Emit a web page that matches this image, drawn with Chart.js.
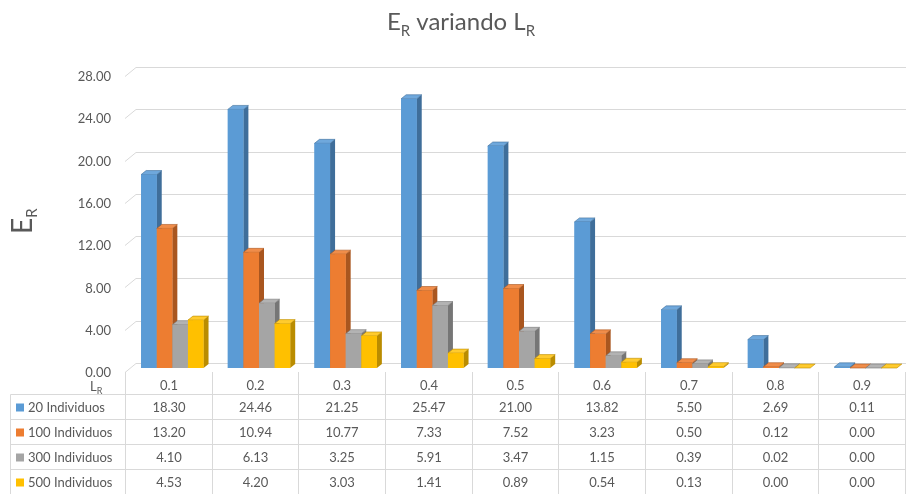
<!DOCTYPE html>
<html>
<head>
<meta charset="utf-8">
<script src="https://cdn.jsdelivr.net/npm/chart.js@4/dist/chart.umd.min.js"></script>
<style>
  html, body { margin: 0; padding: 0; background: #ffffff; overflow: hidden; }
  #wrap { position: relative; width: 910px; height: 494px; }
</style>
</head>
<body>
<div id="wrap"><canvas id="c"></canvas></div>
<script>
// L_R values along the horizontal axis
const categories = ['0.1', '0.2', '0.3', '0.4', '0.5', '0.6', '0.7', '0.8', '0.9'];

// E_R per population size
const seriesNames = ['20 Individuos', '100 Individuos', '300 Individuos', '500 Individuos'];
const ind20  = [18.30, 24.46, 21.25, 25.47, 21.00, 13.82, 5.50, 2.69, 0.11];
const ind100 = [13.20, 10.94, 10.77, 7.33, 7.52, 3.23, 0.50, 0.12, 0.00];
const ind300 = [4.10, 6.13, 3.25, 5.91, 3.47, 1.15, 0.39, 0.02, 0.00];
const ind500 = [4.53, 4.20, 3.03, 1.41, 0.89, 0.54, 0.13, 0.00, 0.00];

// value axis ticks
const yTicks = [0, 4, 8, 12, 16, 20, 24, 28];

const FONT = "Lato, 'Open Sans', 'DejaVu Sans', sans-serif";
const TEXT = '#595959';
const GRID = '#d9d9d9';

// front / side / top shades of each series
const faces = [
  { front: '#5B9BD5', side: '#3F6E9A', top: '#6FA8DC' },
  { front: '#ED7D31', side: '#A9561F', top: '#F08D4A' },
  { front: '#A5A5A5', side: '#767676', top: '#B3B3B3' },
  { front: '#FFC000', side: '#BA8C00', top: '#FFCB2E' }
];
const seriesData = [ind20, ind100, ind300, ind500];

const DEPTH_X = 5, DEPTH_Y = 4;      // extrusion of the bars
const COL_SHIFT = 4;                 // table columns sit slightly left of the bar plane

function drawSubText(ctx, parts, x, y) {
  // parts: [{t, size, dy}] drawn left to right starting at x, baseline y
  let cx = x;
  for (const p of parts) {
    ctx.font = p.size + 'px ' + FONT;
    ctx.fillText(p.t, cx, y + (p.dy || 0));
    cx += ctx.measureText(p.t).width;
  }
  return cx - x;
}
function measureParts(ctx, parts) {
  let w = 0;
  for (const p of parts) { ctx.font = p.size + 'px ' + FONT; w += ctx.measureText(p.t).width; }
  return w;
}

const wallPlugin = {
  id: 'wall',
  beforeDatasetsDraw(chart) {
    const ctx = chart.ctx, y = chart.scales.y, area = chart.chartArea;
    ctx.save();
    ctx.strokeStyle = GRID;
    ctx.lineWidth = 1;
    for (const v of yTicks) {
      const py = y.getPixelForValue(v);
      const back = Math.round(py - 5) + 0.5, front = Math.round(py + 4) + 0.5;
      ctx.beginPath();
      ctx.moveTo(area.left - COL_SHIFT, front);
      ctx.lineTo(area.left + 7, back);
      ctx.lineTo(area.right - 3, back);
      ctx.stroke();
    }
    // value labels on the front edge
    ctx.fillStyle = TEXT;
    ctx.font = '13px ' + FONT;
    ctx.textAlign = 'right';
    ctx.textBaseline = 'middle';
    for (const v of yTicks) {
      ctx.fillText(v.toFixed(2), 111, y.getPixelForValue(v) + 5);
    }
    ctx.restore();
  }
};

const barsPlugin = {
  id: 'bars3d',
  afterDatasetsDraw(chart) {
    const ctx = chart.ctx;
    ctx.save();
    for (let i = 0; i < categories.length; i++) {
      for (let d = 0; d < seriesData.length; d++) {
        const el = chart.getDatasetMeta(d).data[i];
        const p = el.getProps(['x', 'y', 'base', 'width'], true);
        const l = p.x - p.width / 2, r = p.x + p.width / 2;
        const top = Math.min(p.y, p.base), base = p.base;
        const f = faces[d];
        // side face
        ctx.fillStyle = f.side;
        ctx.beginPath();
        ctx.moveTo(r, top); ctx.lineTo(r + DEPTH_X, top - DEPTH_Y);
        ctx.lineTo(r + DEPTH_X, base - DEPTH_Y); ctx.lineTo(r, base);
        ctx.closePath(); ctx.fill();
        // top face
        ctx.fillStyle = f.top;
        ctx.beginPath();
        ctx.moveTo(l, top); ctx.lineTo(l + DEPTH_X, top - DEPTH_Y);
        ctx.lineTo(r + DEPTH_X, top - DEPTH_Y); ctx.lineTo(r, top);
        ctx.closePath(); ctx.fill();
        ctx.strokeStyle = f.side; ctx.lineWidth = 0.6; ctx.stroke();
        // front face
        ctx.fillStyle = f.front;
        ctx.fillRect(l, top, r - l, base - top);
      }
    }
    ctx.restore();
  }
};

const textPlugin = {
  id: 'texts',
  afterDraw(chart) {
    const ctx = chart.ctx, x = chart.scales.x, area = chart.chartArea;
    ctx.save();
    ctx.fillStyle = TEXT;
    ctx.textBaseline = 'alphabetic';
    ctx.textAlign = 'left';

    // title
    const title = [
      { t: 'E', size: 24 }, { t: 'R', size: 15, dy: 6 },
      { t: ' variando L', size: 24 }, { t: 'R', size: 15, dy: 6 }
    ];
    const tw = measureParts(ctx, title);
    drawSubText(ctx, title, 461 - tw / 2, 30);

    // value axis title, rotated
    ctx.save();
    ctx.translate(32, 234);
    ctx.rotate(-Math.PI / 2);
    drawSubText(ctx, [{ t: 'E', size: 28 }, { t: 'R', size: 15, dy: 5 }], 0, 0);
    ctx.restore();

    // data table
    const n = categories.length;
    const cw = (area.right - area.left) / n;
    const bounds = [];
    for (let i = 0; i <= n; i++) {
      const c = i < n ? x.getPixelForValue(i) - cw / 2 : x.getPixelForValue(n - 1) + cw / 2;
      bounds.push(Math.round(c - COL_SHIFT) + 0.5);
    }
    const headTop = 372, rowLines = [394.5, 419.5, 444.5, 469.5], bottom = 494;
    ctx.strokeStyle = GRID;
    ctx.lineWidth = 1;
    ctx.beginPath();
    for (const b of bounds) { ctx.moveTo(b, headTop); ctx.lineTo(b, bottom); }
    ctx.moveTo(10.5, rowLines[0]); ctx.lineTo(10.5, bottom);
    for (const ry of rowLines) { ctx.moveTo(10.5, ry); ctx.lineTo(bounds[n], ry); }
    ctx.stroke();

    ctx.textBaseline = 'middle';
    // header row
    ctx.font = '13px ' + FONT;
    ctx.textAlign = 'center';
    for (let i = 0; i < n; i++) {
      ctx.fillText(categories[i], (bounds[i] + bounds[i + 1]) / 2, 386);
    }
    ctx.textAlign = 'left';
    ctx.textBaseline = 'alphabetic';
    drawSubText(ctx, [{ t: 'L', size: 13 }, { t: 'R', size: 9, dy: 3 }], 90, 391);

    // series rows
    const rowMid = [407.5, 432.5, 457.5, 482.5];
    ctx.textBaseline = 'middle';
    for (let d = 0; d < seriesData.length; d++) {
      ctx.fillStyle = faces[d].front;
      ctx.fillRect(16, rowMid[d] - 4, 8, 8);
      ctx.fillStyle = TEXT;
      ctx.font = '13px ' + FONT;
      ctx.textAlign = 'left';
      ctx.fillText(seriesNames[d], 28, rowMid[d]);
      ctx.textAlign = 'center';
      for (let i = 0; i < n; i++) {
        ctx.fillText(seriesData[d][i].toFixed(2), (bounds[i] + bounds[i + 1]) / 2, rowMid[d]);
      }
    }
    ctx.restore();
  }
};

new Chart(document.getElementById('c'), {
  type: 'bar',
  data: {
    labels: categories,
    datasets: seriesData.map((arr, d) => ({
      label: seriesNames[d],
      data: arr,
      backgroundColor: faces[d].front,
      borderWidth: 0,
      categoryPercentage: 0.72,
      barPercentage: 1.0
    }))
  },
  options: {
    responsive: true,
    maintainAspectRatio: false,
    animation: false,
    layout: { padding: { left: 129, right: 1, top: 72, bottom: 126 } },
    plugins: { legend: { display: false }, title: { display: false }, tooltip: { enabled: false } },
    scales: {
      x: { display: false },
      y: { display: false, min: 0, max: 28, ticks: { stepSize: 4 } }
    }
  },
  plugins: [wallPlugin, barsPlugin, textPlugin]
});
</script>
</body>
</html>
